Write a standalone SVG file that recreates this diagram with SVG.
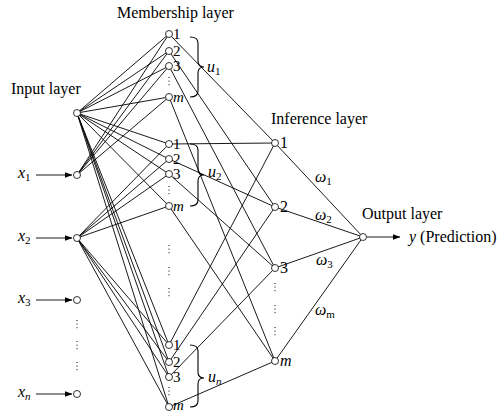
<svg xmlns="http://www.w3.org/2000/svg" width="497" height="412" viewBox="0 0 497 412">
<style>
.l{stroke:#000;stroke-width:0.9;fill:none}
.n{fill:#fff;stroke:#000;stroke-width:0.8}
.t{font-family:"Liberation Serif","Times New Roman",serif;font-size:16px;fill:#000}
.d{font-family:"Liberation Serif","Times New Roman",serif;font-size:16px;fill:#000}
.md{font-family:"Liberation Serif","Times New Roman",serif;font-size:15px;fill:#000}
.i{font-style:italic}
.s{font-size:11px}
.dot{stroke:#000;stroke-width:1;stroke-dasharray:1 2.6;fill:none}
.br{stroke:#000;stroke-width:1.1;fill:none}
</style>
<defs>
<marker id="ah" markerWidth="8" markerHeight="6" refX="7.5" refY="3" orient="auto" markerUnits="userSpaceOnUse">
<path d="M0,0 L8,3 L0,6 Z" fill="#000"/>
</marker>
</defs>
<g id="labels">
<text class="t" x="117" y="18">Membership layer</text>
<text class="t" x="11" y="94">Input layer</text>
<text class="t" x="271" y="124">Inference layer</text>
<text class="t" x="362" y="219">Output layer</text>
<text class="t" x="409" y="242"><tspan class="i">y</tspan> (Prediction)</text>
</g>
<g id="connectors">
<line class="l" x1="77" y1="113" x2="169" y2="34"/>
<line class="l" x1="77" y1="113" x2="169" y2="51"/>
<line class="l" x1="77" y1="113" x2="169" y2="66"/>
<line class="l" x1="77" y1="113" x2="169" y2="97"/>
<line class="l" x1="77" y1="113" x2="169" y2="144"/>
<line class="l" x1="77" y1="113" x2="169" y2="159"/>
<line class="l" x1="77" y1="113" x2="169" y2="174"/>
<line class="l" x1="77" y1="113" x2="169" y2="206"/>
<line class="l" x1="77" y1="113" x2="169" y2="345"/>
<line class="l" x1="77" y1="113" x2="169" y2="362"/>
<line class="l" x1="77" y1="113" x2="169" y2="377"/>
<line class="l" x1="77" y1="113" x2="169" y2="407"/>
<line class="l" x1="77" y1="175" x2="169" y2="34"/>
<line class="l" x1="77" y1="175" x2="169" y2="51"/>
<line class="l" x1="77" y1="175" x2="169" y2="66"/>
<line class="l" x1="77" y1="175" x2="169" y2="97"/>
<line class="l" x1="77" y1="238" x2="169" y2="144"/>
<line class="l" x1="77" y1="238" x2="169" y2="159"/>
<line class="l" x1="77" y1="238" x2="169" y2="174"/>
<line class="l" x1="77" y1="238" x2="169" y2="206"/>
<line class="l" x1="77" y1="238" x2="169" y2="345"/>
<line class="l" x1="77" y1="238" x2="169" y2="362"/>
<line class="l" x1="77" y1="238" x2="169" y2="377"/>
<line class="l" x1="77" y1="238" x2="169" y2="407"/>
<line class="l" x1="169" y1="34" x2="275" y2="143"/>
<line class="l" x1="169" y1="144" x2="275" y2="143"/>
<line class="l" x1="169" y1="345" x2="275" y2="143"/>
<line class="l" x1="169" y1="51" x2="275" y2="207"/>
<line class="l" x1="169" y1="159" x2="275" y2="207"/>
<line class="l" x1="169" y1="362" x2="275" y2="207"/>
<line class="l" x1="169" y1="66" x2="275" y2="268"/>
<line class="l" x1="169" y1="174" x2="275" y2="268"/>
<line class="l" x1="169" y1="377" x2="275" y2="268"/>
<line class="l" x1="169" y1="97" x2="275" y2="361"/>
<line class="l" x1="169" y1="206" x2="275" y2="361"/>
<line class="l" x1="169" y1="407" x2="275" y2="361"/>
<line class="l" x1="275" y1="143" x2="363" y2="237"/>
<line class="l" x1="275" y1="207" x2="363" y2="237"/>
<line class="l" x1="275" y1="268" x2="363" y2="237"/>
<line class="l" x1="275" y1="361" x2="363" y2="237"/>
<line class="l" x1="36" y1="175" x2="72" y2="175" marker-end="url(#ah)"/>
<line class="l" x1="36" y1="238" x2="72" y2="238" marker-end="url(#ah)"/>
<line class="l" x1="36" y1="300" x2="72" y2="300" marker-end="url(#ah)"/>
<line class="l" x1="36" y1="394" x2="72" y2="394" marker-end="url(#ah)"/>
<line class="l" x1="367" y1="237" x2="400" y2="237" marker-end="url(#ah)"/>
</g>
<g id="weights">
<text class="d i" x="315" y="182">ω<tspan class="s" font-style="normal" dy="3">1</tspan></text>
<text class="d i" x="315" y="220">ω<tspan class="s" font-style="normal" dy="3">2</tspan></text>
<text class="d i" x="316" y="265">ω<tspan class="s" font-style="normal" dy="3">3</tspan></text>
<text class="d i" x="315" y="315">ω<tspan class="s" font-style="normal" dy="3">m</tspan></text>
</g>
<g id="input-layer">
<circle class="n" cx="77" cy="113" r="3.5"/>
</g>
<g id="x1">
<circle class="n" cx="77" cy="175" r="3.5"/>
<text class="t i" x="18" y="178">x<tspan class="s" font-style="normal" dy="3">1</tspan></text>
</g>
<g id="x2">
<circle class="n" cx="77" cy="238" r="3.5"/>
<text class="t i" x="18" y="241">x<tspan class="s" font-style="normal" dy="3">2</tspan></text>
</g>
<g id="x3">
<circle class="n" cx="77" cy="300" r="3.5"/>
<text class="t i" x="18" y="303">x<tspan class="s" font-style="normal" dy="3">3</tspan></text>
</g>
<g id="xn">
<circle class="n" cx="77" cy="394" r="3.5"/>
<text class="t i" x="18" y="397">x<tspan class="s" dy="3">n</tspan></text>
</g>
<g id="input-dots">
<line class="dot" x1="77" y1="320" x2="77" y2="329"/>
<line class="dot" x1="77" y1="341" x2="77" y2="350"/>
<line class="dot" x1="77" y1="362" x2="77" y2="371"/>
</g>
<g id="u1">
<circle class="n" cx="169" cy="34" r="3.5"/>
<circle class="n" cx="169" cy="51" r="3.5"/>
<circle class="n" cx="169" cy="66" r="3.5"/>
<circle class="n" cx="169" cy="97" r="3.5"/>
<text class="md" x="173" y="39">1</text>
<text class="md" x="173" y="56">2</text>
<text class="md" x="173" y="71">3</text>
<text class="md i" x="173" y="102">m</text>
<line class="dot" x1="169" y1="77" x2="169" y2="87"/>
<path class="br" d="M190,37 Q198,37 198,43 L198,61 Q198,67 204,67 Q198,67 198,73 L198,91 Q198,97 190,97"/>
<text class="t i" x="207" y="72">u<tspan class="s" font-style="normal" dy="3">1</tspan></text>
</g>
<g id="u2">
<circle class="n" cx="169" cy="144" r="3.5"/>
<circle class="n" cx="169" cy="159" r="3.5"/>
<circle class="n" cx="169" cy="174" r="3.5"/>
<circle class="n" cx="169" cy="206" r="3.5"/>
<text class="md" x="173" y="149">1</text>
<text class="md" x="173" y="164">2</text>
<text class="md" x="173" y="179">3</text>
<text class="md i" x="173" y="211">m</text>
<line class="dot" x1="169" y1="186" x2="169" y2="196"/>
<path class="br" d="M190,144 Q198,144 198,150 L198,169 Q198,175 204,175 Q198,175 198,181 L198,200 Q198,206 190,206"/>
<text class="t i" x="208" y="177">u<tspan class="s" font-style="normal" dy="3">2</tspan></text>
</g>
<g id="group-dots">
<line class="dot" x1="169" y1="245" x2="169" y2="254"/>
<line class="dot" x1="169" y1="267" x2="169" y2="276"/>
<line class="dot" x1="169" y1="288" x2="169" y2="297"/>
</g>
<g id="un">
<circle class="n" cx="169" cy="345" r="3.5"/>
<circle class="n" cx="169" cy="362" r="3.5"/>
<circle class="n" cx="169" cy="377" r="3.5"/>
<circle class="n" cx="169" cy="407" r="3.5"/>
<text class="md" x="173" y="350">1</text>
<text class="md" x="173" y="367">2</text>
<text class="md" x="173" y="382">3</text>
<text class="md i" x="173" y="410">m</text>
<line class="dot" x1="169" y1="387" x2="169" y2="396"/>
<path class="br" d="M190,345 Q198,345 198,351 L198,372 Q198,378 204,378 Q198,378 198,384 L198,401 Q198,407 190,407"/>
<text class="t i" x="208" y="382">u<tspan class="s" dy="3">n</tspan></text>
</g>
<g id="inference">
<circle class="n" cx="275" cy="143" r="3.5"/>
<circle class="n" cx="275" cy="207" r="3.5"/>
<circle class="n" cx="275" cy="268" r="3.5"/>
<circle class="n" cx="275" cy="361" r="3.5"/>
<text class="d" x="280" y="148">1</text>
<text class="d" x="280" y="212">2</text>
<text class="d" x="280" y="273">3</text>
<text class="d i" x="280" y="366">m</text>
<line class="dot" x1="275" y1="283" x2="275" y2="292"/>
<line class="dot" x1="275" y1="305" x2="275" y2="314"/>
<line class="dot" x1="275" y1="327" x2="275" y2="336"/>
</g>
<g id="output">
<circle class="n" cx="363" cy="237" r="3.5"/>
</g>
</svg>
